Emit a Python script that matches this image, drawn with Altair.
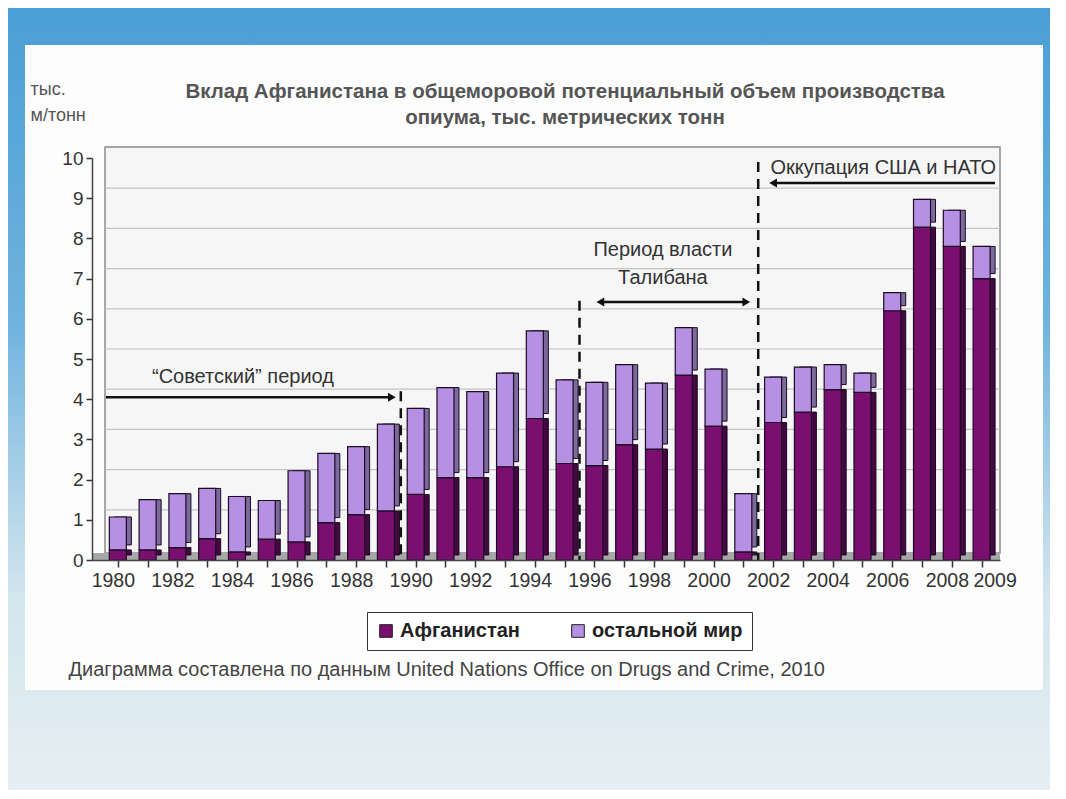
import altair as alt
import pandas as pd

# ---------------- data ----------------
years = list(range(1980, 2010))
afghanistan = [0.25, 0.25, 0.31, 0.53, 0.20, 0.52, 0.45, 0.93, 1.13, 1.22,
               1.63, 2.05, 2.05, 2.32, 3.52, 2.40, 2.35, 2.87, 2.76, 4.60,
               3.33, 0.20, 3.42, 3.68, 4.24, 4.17, 6.20, 8.28, 7.80, 7.00]
world_total = [1.07, 1.50, 1.65, 1.78, 1.58, 1.48, 2.22, 2.65, 2.82, 3.38,
               3.77, 4.29, 4.19, 4.65, 5.70, 4.48, 4.42, 4.86, 4.40, 5.78,
               4.75, 1.65, 4.55, 4.80, 4.86, 4.65, 6.65, 8.97, 8.70, 7.80]
series_names = ["Афганистан", "остальной мир"]
y_ticks = list(range(0, 11))
grid_values = list(range(1, 10))

divider_x = [1989.5, 1995.5, 2001.5]
divider_top = [4.2, 6.45, 9.9]

arrow_x1 = [1979.6, 1996.2, 2002.0]
arrow_x2 = [1989.2, 2001.1, 2009.45]
arrow_y = [4.05, 6.42, 9.38]

head_x = [1989.2, 1996.2, 2001.1, 2002.0]
head_y = [4.05, 6.42, 6.42, 9.38]
head_shape = ["triangle-right", "triangle-left", "triangle-right", "triangle-left"]

note_text = ["“Советский” период", "Период власти", "Талибана", "Оккупация США и НАТО"]
note_x = [1984.2, 1998.3, 1998.3, 2005.7]
note_y = [4.55, 7.71, 7.02, 9.75]

title_lines = ["Вклад Афганистана в общеморовой потенциальный объем производства",
               "опиума, тыс. метрических тонн"]
unit_lines = ["тыс.", "м/тонн"]
source_text = "Диаграмма составлена по данным United Nations Office on Drugs and Crime, 2010"

# ---------------- styles ----------------
front_colors = ["#7a0f6f", "#b690e3"]
side_colors = ["#43083f", "#7b6a9c"]
FONT = "Liberation Sans"
W, H = 908, 402

rows = []
for yr, a, t in zip(years, afghanistan, world_total):
    rows.append({"year": yr, "series": series_names[0], "y0": 0.0, "y1": a})
    rows.append({"year": yr, "series": series_names[1], "y0": a, "y1": t})
bars_df = pd.DataFrame(rows)

xscale = alt.Scale(domain=[1979.3, 2009.45], nice=False, zero=False)
yscale = alt.Scale(domain=[0, 10], nice=False)

x_axis = alt.Axis(
    values=years, format="d", zindex=1,
    labelExpr="(datum.value % 2 == 0 || datum.value == 2009) ? datum.label : ''",
    labelOffset={"condition": {"test": "datum.value == 2009", "value": 13}, "value": -5},
    labelFontSize=19.5, labelColor="#333", labelFont=FONT, labelPadding=4, labelOverlap=False,
    tickSize=7, tickColor="#333", tickWidth=1.5, domainColor="#444", domainWidth=1.5,
    grid=False,
    title=source_text, titleFont=FONT, titleFontSize=20, titleFontWeight="normal",
    titleColor="#444", titleX=-24, titleY=99, titleAlign="left", titleAnchor="start",
    titleBaseline="top")
y_axis = alt.Axis(
    values=y_ticks, zindex=1, labelFontSize=19, labelColor="#333", labelFont=FONT, labelPadding=3,
    tickSize=6, tickColor="#333", tickWidth=1.5, domainColor="#444", domainWidth=1.5,
    grid=False,
    title=unit_lines, titleFont=FONT, titleFontSize=18, titleFontWeight="normal",
    titleColor="#555", titleAngle=0, titleX=-62, titleY=-78, titleAlign="left",
    titleBaseline="top", titleLineHeight=26)

one = pd.DataFrame({"k": [0]})

bg = alt.Chart(one).mark_rect(
    color=alt.LinearGradient(
        gradient="linear", x1=0, y1=0, x2=0, y2=1,
        stops=[alt.GradientStop(offset=0, color="#4a9fd6"),
               alt.GradientStop(offset=0.4, color="#6fb3de"),
               alt.GradientStop(offset=0.75, color="#d3e5ee"),
               alt.GradientStop(offset=1, color="#e6eff3")])
).encode(x=alt.value(-84), x2=alt.value(W + 50), y=alt.value(-150), y2=alt.value(H + 230))

panel = alt.Chart(one).mark_rect(color="#fdfdfd").encode(
    x=alt.value(-67), x2=alt.value(W + 43), y=alt.value(-113), y2=alt.value(H + 130))

title1 = alt.Chart(pd.DataFrame({"t": [title_lines[0]]})).mark_text(
    font=FONT, fontSize=20.5, fontWeight="bold", color="#555555", align="center", baseline="middle"
).encode(x=alt.value(473), y=alt.value(-66), text="t:N")
title2 = alt.Chart(pd.DataFrame({"t": [title_lines[1]]})).mark_text(
    font=FONT, fontSize=20.5, fontWeight="bold", color="#555555", align="center", baseline="middle"
).encode(x=alt.value(473), y=alt.value(-40), text="t:N")

wall = alt.Chart(one).mark_rect(fill="#f6f6f6", stroke="#8a8a8a", strokeWidth=1.5).encode(
    x=alt.value(13), x2=alt.value(W), y=alt.value(-11), y2=alt.value(H - 7))

floor = alt.Chart(one).mark_rect(fill="#a7a7a7").encode(
    x=alt.value(0), x2=alt.value(W), y=alt.value(H - 7), y2=alt.value(H))

grid = alt.Chart(pd.DataFrame({"v": grid_values})).mark_rule(
    color="#c4c4c4", strokeWidth=1.2, yOffset=-10
).encode(y=alt.Y("v:Q", scale=yscale, axis=y_axis), x=alt.value(13), x2=alt.value(W))

depth = alt.Chart(bars_df).mark_bar(size=17, xOffset=5, yOffset=-5, stroke="#1c0a24", strokeWidth=1).encode(
    x=alt.X("year:Q", scale=xscale, axis=x_axis),
    y=alt.Y("y0:Q", scale=yscale, axis=y_axis), y2="y1:Q",
    color=alt.Color("series:N", scale=alt.Scale(domain=series_names, range=side_colors), legend=None),
)

front = alt.Chart(bars_df).mark_bar(size=17, stroke="#1c0a24", strokeWidth=1.2).encode(
    x=alt.X("year:Q", scale=xscale, axis=x_axis),
    y=alt.Y("y0:Q", scale=yscale, axis=y_axis),
    y2="y1:Q",
    color=alt.Color("series:N", scale=alt.Scale(domain=series_names, range=front_colors),
                    legend=alt.Legend(title=None, orient="none", legendX=275, legendY=454,
                                      direction="horizontal", strokeColor="#333", padding=9,
                                      symbolType="square", symbolSize=160,
                                      symbolStrokeColor="#222", symbolStrokeWidth=1,
                                      labelFont=FONT, labelFontSize=20, labelColor="#222",
                                      labelFontWeight="bold", columnPadding=48,
                                      fillColor="#ffffff")),
)

div_df = pd.DataFrame({"x": divider_x, "top": divider_top, "bottom": [0] * len(divider_x)})
dividers = alt.Chart(div_df).mark_rule(color="#111", strokeWidth=2.5, strokeDash=[10, 7]).encode(
    x=alt.X("x:Q", scale=xscale, axis=x_axis), y=alt.Y("top:Q", scale=yscale, axis=y_axis), y2="bottom:Q")

arr_df = pd.DataFrame({"x1": arrow_x1, "x2": arrow_x2, "y": arrow_y})
arrows = alt.Chart(arr_df).mark_rule(color="#111", strokeWidth=2.5).encode(
    x=alt.X("x1:Q", scale=xscale, axis=x_axis), x2="x2:Q", y=alt.Y("y:Q", scale=yscale, axis=y_axis))

head_df = pd.DataFrame({"x": head_x, "y": head_y, "shape": head_shape})
heads = alt.Chart(head_df).mark_point(filled=True, size=80, color="#111", opacity=1).encode(
    x=alt.X("x:Q", scale=xscale, axis=x_axis), y=alt.Y("y:Q", scale=yscale, axis=y_axis),
    shape=alt.Shape("shape:N", scale=None))

note_df = pd.DataFrame({"t": note_text, "x": note_x, "y": note_y})
notes = alt.Chart(note_df).mark_text(font=FONT, fontSize=20, color="#333").encode(
    x=alt.X("x:Q", scale=xscale, axis=x_axis), y=alt.Y("y:Q", scale=yscale, axis=y_axis), text="t:N")

chart = alt.layer(bg, panel, title1, title2, wall, floor, grid, depth, front, dividers, arrows, heads, notes).resolve_scale(
    color="independent"
).properties(
    width=W, height=H,
    autosize=alt.AutoSizeParams(type="none"),
    padding={"left": 84, "top": 150, "right": 50, "bottom": 230},
).configure(background="#ffffff").configure_view(stroke=None)

chart.save("out.html", embed_options={"renderer": "svg", "actions": False})
